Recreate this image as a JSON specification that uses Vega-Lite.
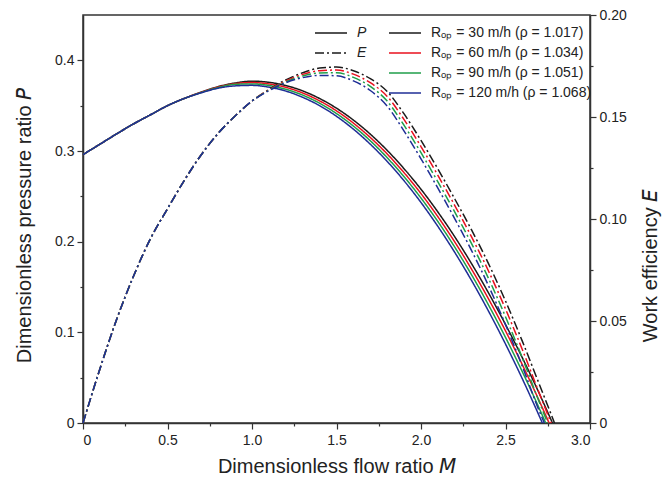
{
"$schema": "https://vega.github.io/schema/vega-lite/v6.json",
"width": 507, "height": 408,
"autosize": {"type": "none"},
"padding": {"left": 83, "top": 15, "right": 77, "bottom": 71},
"config": {
  "font": "Liberation Sans",
  "view": {"stroke": "#333", "strokeWidth": 1.5},
  "axis": {"grid": false, "domainColor": "#333", "tickColor": "#333", "labelColor": "#222", "titleColor": "#222", "labelFontSize": 14, "titleFontSize": 20, "titleFontWeight": "normal", "domainWidth": 1.5, "tickWidth": 1.2, "labelOverlap": false, "labelFont": "Liberation Sans", "titleFont": "Liberation Sans"},
  "legend": {"symbolType": "M-3.2,0H3.2", "symbolSize": 100, "symbolStrokeWidth": 1.5, "labelFontSize": 14, "labelFont": "Liberation Sans", "labelColor": "#222", "padding": 0, "labelOffset": 19, "rowPadding": 6, "labelLimit": 0}
},
"datasets": {"d": [
{"curve":"P","rop":"30","M":0,"val":0.296},{"curve":"P","rop":"30","M":0.1,"val":0.3075},{"curve":"P","rop":"30","M":0.2,"val":0.319},{"curve":"P","rop":"30","M":0.3,"val":0.33},{"curve":"P","rop":"30","M":0.4,"val":0.34},{"curve":"P","rop":"30","M":0.5,"val":0.35},{"curve":"P","rop":"30","M":0.6,"val":0.358},{"curve":"P","rop":"30","M":0.7,"val":0.365},{"curve":"P","rop":"30","M":0.8,"val":0.371},{"curve":"P","rop":"30","M":0.9,"val":0.375},{"curve":"P","rop":"30","M":1.0,"val":0.377},{"curve":"P","rop":"30","M":1.1,"val":0.3758},{"curve":"P","rop":"30","M":1.2,"val":0.3722},{"curve":"P","rop":"30","M":1.3,"val":0.3663},{"curve":"P","rop":"30","M":1.4,"val":0.3579},{"curve":"P","rop":"30","M":1.5,"val":0.3472},{"curve":"P","rop":"30","M":1.6,"val":0.3341},{"curve":"P","rop":"30","M":1.7,"val":0.3186},{"curve":"P","rop":"30","M":1.8,"val":0.3007},{"curve":"P","rop":"30","M":1.9,"val":0.2804},{"curve":"P","rop":"30","M":2.0,"val":0.2578},{"curve":"P","rop":"30","M":2.1,"val":0.2327},{"curve":"P","rop":"30","M":2.2,"val":0.2053},{"curve":"P","rop":"30","M":2.3,"val":0.1755},{"curve":"P","rop":"30","M":2.4,"val":0.1433},{"curve":"P","rop":"30","M":2.5,"val":0.1087},{"curve":"P","rop":"30","M":2.6,"val":0.0718},{"curve":"P","rop":"30","M":2.7,"val":0.0325},{"curve":"P","rop":"30","M":2.778,"val":0},
{"curve":"P","rop":"60","M":0,"val":0.296},{"curve":"P","rop":"60","M":0.1,"val":0.3075},{"curve":"P","rop":"60","M":0.2,"val":0.319},{"curve":"P","rop":"60","M":0.3,"val":0.33},{"curve":"P","rop":"60","M":0.4,"val":0.34},{"curve":"P","rop":"60","M":0.5,"val":0.35},{"curve":"P","rop":"60","M":0.6,"val":0.358},{"curve":"P","rop":"60","M":0.7,"val":0.3648},{"curve":"P","rop":"60","M":0.8,"val":0.3705},{"curve":"P","rop":"60","M":0.9,"val":0.3743},{"curve":"P","rop":"60","M":1.0,"val":0.3755},{"curve":"P","rop":"60","M":1.1,"val":0.374},{"curve":"P","rop":"60","M":1.2,"val":0.3702},{"curve":"P","rop":"60","M":1.3,"val":0.364},{"curve":"P","rop":"60","M":1.4,"val":0.3553},{"curve":"P","rop":"60","M":1.5,"val":0.3443},{"curve":"P","rop":"60","M":1.6,"val":0.3308},{"curve":"P","rop":"60","M":1.7,"val":0.3149},{"curve":"P","rop":"60","M":1.8,"val":0.2967},{"curve":"P","rop":"60","M":1.9,"val":0.276},{"curve":"P","rop":"60","M":2.0,"val":0.253},{"curve":"P","rop":"60","M":2.1,"val":0.2275},{"curve":"P","rop":"60","M":2.2,"val":0.1996},{"curve":"P","rop":"60","M":2.3,"val":0.1694},{"curve":"P","rop":"60","M":2.4,"val":0.1367},{"curve":"P","rop":"60","M":2.5,"val":0.1016},{"curve":"P","rop":"60","M":2.6,"val":0.0641},{"curve":"P","rop":"60","M":2.7,"val":0.0243},{"curve":"P","rop":"60","M":2.758,"val":0},
{"curve":"P","rop":"90","M":0,"val":0.296},{"curve":"P","rop":"90","M":0.1,"val":0.3075},{"curve":"P","rop":"90","M":0.2,"val":0.319},{"curve":"P","rop":"90","M":0.3,"val":0.33},{"curve":"P","rop":"90","M":0.4,"val":0.34},{"curve":"P","rop":"90","M":0.5,"val":0.35},{"curve":"P","rop":"90","M":0.6,"val":0.358},{"curve":"P","rop":"90","M":0.7,"val":0.3645},{"curve":"P","rop":"90","M":0.8,"val":0.37},{"curve":"P","rop":"90","M":0.9,"val":0.3735},{"curve":"P","rop":"90","M":1.0,"val":0.374},{"curve":"P","rop":"90","M":1.1,"val":0.3723},{"curve":"P","rop":"90","M":1.2,"val":0.3681},{"curve":"P","rop":"90","M":1.3,"val":0.3616},{"curve":"P","rop":"90","M":1.4,"val":0.3527},{"curve":"P","rop":"90","M":1.5,"val":0.3413},{"curve":"P","rop":"90","M":1.6,"val":0.3275},{"curve":"P","rop":"90","M":1.7,"val":0.3113},{"curve":"P","rop":"90","M":1.8,"val":0.2926},{"curve":"P","rop":"90","M":1.9,"val":0.2716},{"curve":"P","rop":"90","M":2.0,"val":0.2481},{"curve":"P","rop":"90","M":2.1,"val":0.2222},{"curve":"P","rop":"90","M":2.2,"val":0.1939},{"curve":"P","rop":"90","M":2.3,"val":0.1632},{"curve":"P","rop":"90","M":2.4,"val":0.13},{"curve":"P","rop":"90","M":2.5,"val":0.0944},{"curve":"P","rop":"90","M":2.6,"val":0.0564},{"curve":"P","rop":"90","M":2.7,"val":0.016},{"curve":"P","rop":"90","M":2.738,"val":0},
{"curve":"P","rop":"120","M":0,"val":0.296},{"curve":"P","rop":"120","M":0.1,"val":0.3075},{"curve":"P","rop":"120","M":0.2,"val":0.319},{"curve":"P","rop":"120","M":0.3,"val":0.33},{"curve":"P","rop":"120","M":0.4,"val":0.34},{"curve":"P","rop":"120","M":0.5,"val":0.35},{"curve":"P","rop":"120","M":0.6,"val":0.358},{"curve":"P","rop":"120","M":0.7,"val":0.3642},{"curve":"P","rop":"120","M":0.8,"val":0.3693},{"curve":"P","rop":"120","M":0.9,"val":0.3718},{"curve":"P","rop":"120","M":1.0,"val":0.3724},{"curve":"P","rop":"120","M":1.1,"val":0.3704},{"curve":"P","rop":"120","M":1.2,"val":0.3661},{"curve":"P","rop":"120","M":1.3,"val":0.3592},{"curve":"P","rop":"120","M":1.4,"val":0.35},{"curve":"P","rop":"120","M":1.5,"val":0.3383},{"curve":"P","rop":"120","M":1.6,"val":0.3241},{"curve":"P","rop":"120","M":1.7,"val":0.3075},{"curve":"P","rop":"120","M":1.8,"val":0.2885},{"curve":"P","rop":"120","M":1.9,"val":0.2671},{"curve":"P","rop":"120","M":2.0,"val":0.2432},{"curve":"P","rop":"120","M":2.1,"val":0.2168},{"curve":"P","rop":"120","M":2.2,"val":0.1881},{"curve":"P","rop":"120","M":2.3,"val":0.1569},{"curve":"P","rop":"120","M":2.4,"val":0.1232},{"curve":"P","rop":"120","M":2.5,"val":0.0871},{"curve":"P","rop":"120","M":2.6,"val":0.0486},{"curve":"P","rop":"120","M":2.7,"val":0.0076},{"curve":"P","rop":"120","M":2.718,"val":0},
{"curve":"E","rop":"30","M":0,"val":0},{"curve":"E","rop":"30","M":0.1,"val":0.0265},{"curve":"E","rop":"30","M":0.2,"val":0.051},{"curve":"E","rop":"30","M":0.3,"val":0.0722},{"curve":"E","rop":"30","M":0.4,"val":0.0905},{"curve":"E","rop":"30","M":0.5,"val":0.105},{"curve":"E","rop":"30","M":0.6,"val":0.119},{"curve":"E","rop":"30","M":0.7,"val":0.1315},{"curve":"E","rop":"30","M":0.8,"val":0.142},{"curve":"E","rop":"30","M":0.9,"val":0.1505},{"curve":"E","rop":"30","M":1.0,"val":0.1578},{"curve":"E","rop":"30","M":1.1,"val":0.1635},{"curve":"E","rop":"30","M":1.2,"val":0.1682},{"curve":"E","rop":"30","M":1.3,"val":0.1717},{"curve":"E","rop":"30","M":1.4,"val":0.174},{"curve":"E","rop":"30","M":1.5,"val":0.1745},{"curve":"E","rop":"30","M":1.6,"val":0.1727},{"curve":"E","rop":"30","M":1.7,"val":0.1688},{"curve":"E","rop":"30","M":1.8,"val":0.1625},{"curve":"E","rop":"30","M":1.9,"val":0.1515},{"curve":"E","rop":"30","M":2.0,"val":0.1385},{"curve":"E","rop":"30","M":2.1,"val":0.1245},{"curve":"E","rop":"30","M":2.2,"val":0.1098},{"curve":"E","rop":"30","M":2.3,"val":0.0945},{"curve":"E","rop":"30","M":2.4,"val":0.078},{"curve":"E","rop":"30","M":2.5,"val":0.0598},{"curve":"E","rop":"30","M":2.6,"val":0.04},{"curve":"E","rop":"30","M":2.7,"val":0.019},{"curve":"E","rop":"30","M":2.79,"val":0},
{"curve":"E","rop":"60","M":0,"val":0},{"curve":"E","rop":"60","M":0.1,"val":0.0265},{"curve":"E","rop":"60","M":0.2,"val":0.051},{"curve":"E","rop":"60","M":0.3,"val":0.0722},{"curve":"E","rop":"60","M":0.4,"val":0.0905},{"curve":"E","rop":"60","M":0.5,"val":0.105},{"curve":"E","rop":"60","M":0.6,"val":0.119},{"curve":"E","rop":"60","M":0.7,"val":0.1315},{"curve":"E","rop":"60","M":0.8,"val":0.142},{"curve":"E","rop":"60","M":0.9,"val":0.1505},{"curve":"E","rop":"60","M":1.0,"val":0.1578},{"curve":"E","rop":"60","M":1.1,"val":0.1633},{"curve":"E","rop":"60","M":1.2,"val":0.1677},{"curve":"E","rop":"60","M":1.3,"val":0.1709},{"curve":"E","rop":"60","M":1.4,"val":0.1727},{"curve":"E","rop":"60","M":1.5,"val":0.173},{"curve":"E","rop":"60","M":1.6,"val":0.171},{"curve":"E","rop":"60","M":1.7,"val":0.1668},{"curve":"E","rop":"60","M":1.8,"val":0.1601},{"curve":"E","rop":"60","M":1.9,"val":0.1487},{"curve":"E","rop":"60","M":2.0,"val":0.1355},{"curve":"E","rop":"60","M":2.1,"val":0.1214},{"curve":"E","rop":"60","M":2.2,"val":0.1066},{"curve":"E","rop":"60","M":2.3,"val":0.0911},{"curve":"E","rop":"60","M":2.4,"val":0.0744},{"curve":"E","rop":"60","M":2.5,"val":0.0559},{"curve":"E","rop":"60","M":2.6,"val":0.0359},{"curve":"E","rop":"60","M":2.7,"val":0.0146},{"curve":"E","rop":"60","M":2.77,"val":0},
{"curve":"E","rop":"90","M":0,"val":0},{"curve":"E","rop":"90","M":0.1,"val":0.0265},{"curve":"E","rop":"90","M":0.2,"val":0.051},{"curve":"E","rop":"90","M":0.3,"val":0.0722},{"curve":"E","rop":"90","M":0.4,"val":0.0905},{"curve":"E","rop":"90","M":0.5,"val":0.105},{"curve":"E","rop":"90","M":0.6,"val":0.119},{"curve":"E","rop":"90","M":0.7,"val":0.1315},{"curve":"E","rop":"90","M":0.8,"val":0.142},{"curve":"E","rop":"90","M":0.9,"val":0.1505},{"curve":"E","rop":"90","M":1.0,"val":0.1578},{"curve":"E","rop":"90","M":1.1,"val":0.1631},{"curve":"E","rop":"90","M":1.2,"val":0.1672},{"curve":"E","rop":"90","M":1.3,"val":0.1701},{"curve":"E","rop":"90","M":1.4,"val":0.1716},{"curve":"E","rop":"90","M":1.5,"val":0.1717},{"curve":"E","rop":"90","M":1.6,"val":0.1694},{"curve":"E","rop":"90","M":1.7,"val":0.165},{"curve":"E","rop":"90","M":1.8,"val":0.1578},{"curve":"E","rop":"90","M":1.9,"val":0.1459},{"curve":"E","rop":"90","M":2.0,"val":0.1325},{"curve":"E","rop":"90","M":2.1,"val":0.1182},{"curve":"E","rop":"90","M":2.2,"val":0.1034},{"curve":"E","rop":"90","M":2.3,"val":0.0878},{"curve":"E","rop":"90","M":2.4,"val":0.0708},{"curve":"E","rop":"90","M":2.5,"val":0.0521},{"curve":"E","rop":"90","M":2.6,"val":0.0318},{"curve":"E","rop":"90","M":2.7,"val":0.0102},{"curve":"E","rop":"90","M":2.75,"val":0},
{"curve":"E","rop":"120","M":0,"val":0},{"curve":"E","rop":"120","M":0.1,"val":0.0265},{"curve":"E","rop":"120","M":0.2,"val":0.051},{"curve":"E","rop":"120","M":0.3,"val":0.0722},{"curve":"E","rop":"120","M":0.4,"val":0.0905},{"curve":"E","rop":"120","M":0.5,"val":0.105},{"curve":"E","rop":"120","M":0.6,"val":0.119},{"curve":"E","rop":"120","M":0.7,"val":0.1315},{"curve":"E","rop":"120","M":0.8,"val":0.142},{"curve":"E","rop":"120","M":0.9,"val":0.1505},{"curve":"E","rop":"120","M":1.0,"val":0.1578},{"curve":"E","rop":"120","M":1.1,"val":0.1629},{"curve":"E","rop":"120","M":1.2,"val":0.1668},{"curve":"E","rop":"120","M":1.3,"val":0.1693},{"curve":"E","rop":"120","M":1.4,"val":0.1704},{"curve":"E","rop":"120","M":1.5,"val":0.1702},{"curve":"E","rop":"120","M":1.6,"val":0.1677},{"curve":"E","rop":"120","M":1.7,"val":0.163},{"curve":"E","rop":"120","M":1.8,"val":0.1553},{"curve":"E","rop":"120","M":1.9,"val":0.1431},{"curve":"E","rop":"120","M":2.0,"val":0.1295},{"curve":"E","rop":"120","M":2.1,"val":0.1151},{"curve":"E","rop":"120","M":2.2,"val":0.1001},{"curve":"E","rop":"120","M":2.3,"val":0.0844},{"curve":"E","rop":"120","M":2.4,"val":0.0672},{"curve":"E","rop":"120","M":2.5,"val":0.0482},{"curve":"E","rop":"120","M":2.6,"val":0.0277},{"curve":"E","rop":"120","M":2.7,"val":0.0058},{"curve":"E","rop":"120","M":2.73,"val":0}
]},
"data": {"name": "d"},
"layer": [
  {
    "transform": [{"filter": "datum.curve == 'P'"}],
    "mark": {"type": "line", "strokeWidth": 1.5, "interpolate": "monotone"},
    "encoding": {
      "x": {"field": "M", "type": "quantitative", "scale": {"domain": [0, 3], "nice": false},
        "axis": {"title": "Dimensionless flow ratio 𝘔", "values": [0,0.25,0.5,0.75,1,1.25,1.5,1.75,2,2.25,2.5,2.75,3],
          "labelExpr": "round(datum.value*4)%2==1 ? '' : (datum.value==0 ? '0' : format(datum.value,'.1f'))",
          "tickSize": {"condition": {"test": "round(datum.value*4)%2==1", "value": 3}, "value": 6},
          "labelPadding": 4, "titlePadding": 9}},
      "y": {"field": "val", "type": "quantitative", "scale": {"domain": [0, 0.45], "nice": false},
        "axis": {"orient": "left", "title": "Dimensionless pressure ratio 𝘗", "values": [0,0.05,0.1,0.15,0.2,0.25,0.3,0.35,0.4],
          "labelExpr": "round(datum.value*20)%2==1 ? '' : (datum.value==0 ? '0' : format(datum.value,'.1f'))",
          "tickSize": {"condition": {"test": "round(datum.value*20)%2==1", "value": 3}, "value": 6},
          "labelPadding": 3, "titlePadding": 20, "titleY": 210}},
      "color": {"field": "rop", "type": "nominal", "scale": {"domain": ["30","60","90","120"], "range": ["#1a1a1a","#e8101e","#1f9e4a","#1f2e96"]},
        "legend": {"title": null, "orient": "none", "legendX": 315, "legendY": 11,
          "labelExpr": "'Rₒₚ = ' + datum.label + ' m/h (ρ = ' + (datum.label=='30' ? '1.017' : datum.label=='60' ? '1.034' : datum.label=='90' ? '1.051' : '1.068') + ')'"}},
      "strokeDash": {"field": "curve", "type": "nominal", "scale": {"domain": ["P","E"], "range": [[1,0],[9,3,2,3]]},
        "legend": {"title": null, "orient": "none", "legendX": 241, "legendY": 11, "labelFontStyle": "italic", "symbolStrokeColor": "#1a1a1a"}}
    }
  },
  {
    "transform": [{"filter": "datum.curve == 'E'"}],
    "mark": {"type": "line", "strokeWidth": 1.5, "interpolate": "monotone"},
    "encoding": {
      "x": {"field": "M", "type": "quantitative"},
      "y": {"field": "val", "type": "quantitative", "scale": {"domain": [0, 0.2], "nice": false},
        "axis": {"orient": "right", "title": "Work efficiency 𝘌", "titleAngle": 270, "titleBaseline": "top", "titleY": 250, "values": [0,0.025,0.05,0.075,0.1,0.125,0.15,0.175,0.2],
          "labelExpr": "round(datum.value*40)%2==1 ? '' : (datum.value==0 ? '0' : format(datum.value,'.2f'))",
          "tickSize": {"condition": {"test": "round(datum.value*40)%2==1", "value": 3}, "value": 6},
          "labelPadding": 3, "titlePadding": 14}},
      "color": {"field": "rop", "type": "nominal"},
      "strokeDash": {"field": "curve", "type": "nominal"}
    }
  }
],
"resolve": {"scale": {"y": "independent"}}
}
